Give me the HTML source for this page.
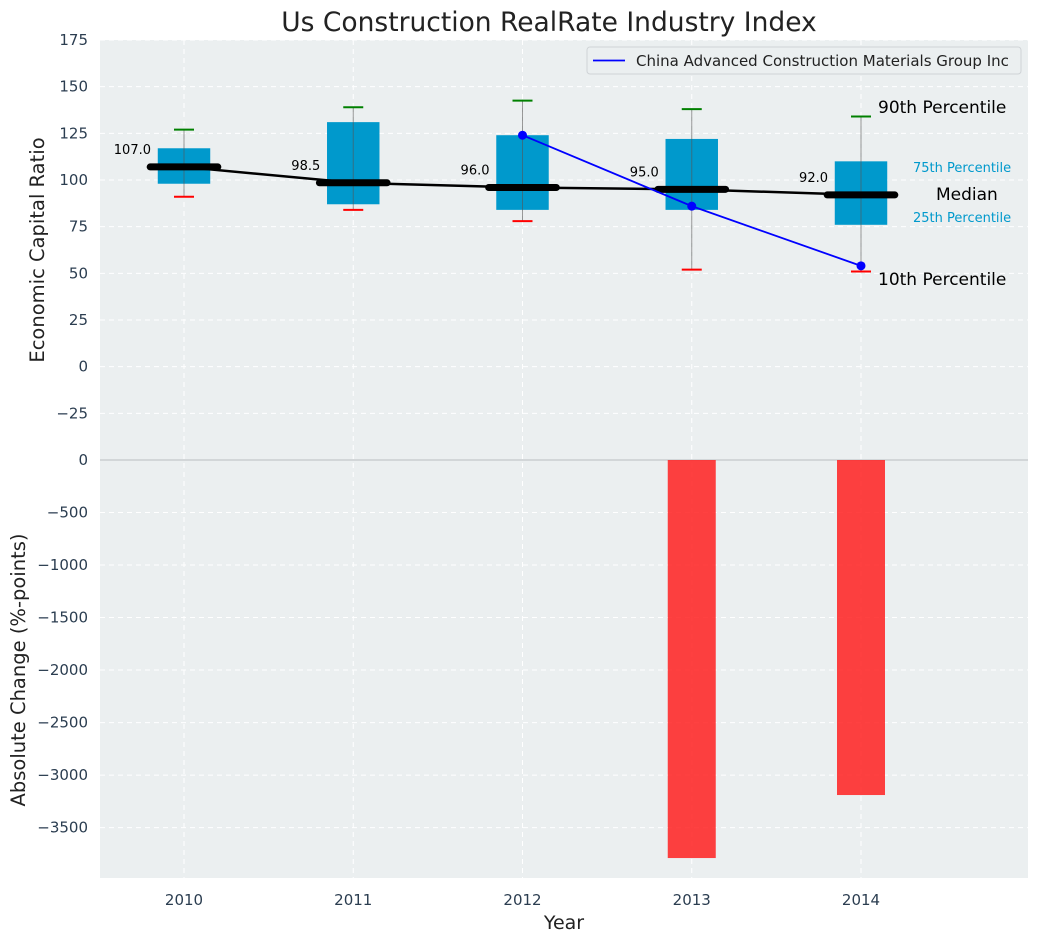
<!DOCTYPE html>
<html><head><meta charset="utf-8"><style>
body{margin:0;background:#fff;font-family:"Liberation Sans","DejaVu Sans",sans-serif}
svg text{font-family:"DejaVu Sans","Liberation Sans",sans-serif}
</style></head><body>
<svg id="c" width="1039" height="942" xmlns="http://www.w3.org/2000/svg"></svg>
<script>
const years=[2010,2011,2012,2013,2014];
const p10=[91,84,78,52,51];
const q1=[98,87,84,84,76];
const med=[107,98.5,96,95,92];
const q3=[117,131,124,122,110];
const p90=[127,139,142.5,138,134];
const companyYears=[2012,2013,2014];
const companyVals=[124,86,54];
const changeYears=[2013,2014];
const changeVals=[-3790,-3190];
const topTicks=[175,150,125,100,75,50,25,0,-25];
const botTicks=[0,-500,-1000,-1500,-2000,-2500,-3000,-3500];

const svg=document.getElementById('c');const NS='http://www.w3.org/2000/svg';
function el(t,a,txt,parent){const e=document.createElementNS(NS,t);for(const k in a)e.setAttribute(k,a[k]);if(txt!==undefined)e.textContent=txt;(parent||svg).appendChild(e);return e;}
const L=100,R=1028,T1=40,B1=460,T2=460,B2=878;
const ppy=169.25;
const x=v=>184+(v-2010)*ppy;
const y1=v=>T1+(175-v)/(175+50)*(B1-T1);
const y2=v=>T2+(0-v)/3980*(B2-T2);

let r=el('rect',{x:L,y:T1,width:R-L,height:B2-T1,fill:'#ebeff0'});

years.forEach(v=>{let g=el('line',{x1:x(v),x2:x(v),y1:T1,y2:B2,stroke:'#fff','stroke-dasharray':'5,4','stroke-width':1});});
topTicks.forEach(v=>{let g=el('line',{x1:L,x2:R,y1:y1(v),y2:y1(v),stroke:'#fff','stroke-dasharray':'5,4'});
 let t=el('text',{x:L-12,y:y1(v)+5,'text-anchor':'end','font-size':15,fill:'#2b3d50'},String(v).replace('-','\u2212'));});
botTicks.forEach(v=>{let g=el('line',{x1:L,x2:R,y1:y2(v),y2:y2(v),stroke:'#fff','stroke-dasharray':'5,4'});
 let t=el('text',{x:L-12,y:y2(v)+5,'text-anchor':'end','font-size':15,fill:'#2b3d50'},String(v).replace('-','\u2212'));});
let sep=el('line',{x1:L,x2:R,y1:B1,y2:B1,stroke:'#b8bcbf','stroke-width':1});
const bw=0.155*ppy,mw=0.2*ppy,cw=10;
years.forEach((yr,i)=>{const cx=x(yr);
 let b=el('rect',{x:cx-bw,y:y1(q3[i]),width:2*bw,height:y1(q1[i])-y1(q3[i]),fill:'#0099cc'});
 let w=el('line',{x1:cx,x2:cx,y1:y1(p90[i]),y2:y1(p10[i]),stroke:'#555','stroke-opacity':0.6,'stroke-width':1});
 let c1=el('line',{x1:cx-cw,x2:cx+cw,y1:y1(p90[i]),y2:y1(p90[i]),stroke:'green','stroke-width':2});
 let c2=el('line',{x1:cx-cw,x2:cx+cw,y1:y1(p10[i]),y2:y1(p10[i]),stroke:'red','stroke-width':2});
});
let mp=el('polyline',{points:years.map((yr,i)=>x(yr)+','+y1(med[i])).join(' '),fill:'none',stroke:'#000','stroke-width':2.5});
years.forEach((yr,i)=>{const cx=x(yr);
 let m=el('line',{x1:cx-mw,x2:cx+mw,y1:y1(med[i]),y2:y1(med[i]),stroke:'#000','stroke-width':7,'stroke-linecap':'round'});
 let t=el('text',{x:cx-33,y:y1(med[i])-13,'text-anchor':'end','font-size':13,fill:'#000'},med[i].toFixed(1));
});
let cl=el('polyline',{points:companyYears.map((yr,i)=>x(yr)+','+y1(companyVals[i])).join(' '),fill:'none',stroke:'blue','stroke-width':1.8});
companyYears.forEach((yr,i)=>{let d=el('circle',{cx:x(yr),cy:y1(companyVals[i]),r:4.5,fill:'blue'});});
const lx=x(2014);
[['90th Percentile',lx+17,113,17,'#000'],['10th Percentile',lx+17,285,17,'#000'],['75th Percentile',lx+52,172,13,'#0099cc'],['25th Percentile',lx+52,222,13,'#0099cc'],['Median',lx+75,200,17,'#000']].forEach(a=>{let t=el('text',{x:a[1],y:a[2],'font-size':a[3],fill:a[4]},a[0]);});
changeYears.forEach((yr,i)=>{let b=el('rect',{x:x(yr)-24,y:y2(0),width:48,height:y2(changeVals[i])-y2(0),fill:'#ff2020','fill-opacity':0.85});});
years.forEach(yr=>{let t=el('text',{x:x(yr),y:B2+27,'text-anchor':'middle','font-size':15,fill:'#2b3d50'},yr);});
let lg=el('rect',{x:587,y:47,width:434,height:27,rx:3,fill:'#ebeff0',stroke:'#cfd3d6'});
let ll=el('line',{x1:593,x2:625,y1:60.5,y2:60.5,stroke:'blue','stroke-width':1.8});
let lt=el('text',{x:636,y:66,'font-size':15,fill:'#222'},'China Advanced Construction Materials Group Inc');
let tt=el('text',{x:549,y:31,'text-anchor':'middle','font-size':26.5,fill:'#222'},'Us Construction RealRate Industry Index');
let xt=el('text',{x:564,y:929,'text-anchor':'middle','font-size':19,fill:'#222'},'Year');
let yt=el('text',{x:44,y:250,'text-anchor':'middle','font-size':19.5,fill:'#222',transform:'rotate(-90 44 250)'},'Economic Capital Ratio');
let yb=el('text',{x:25,y:670,'text-anchor':'middle','font-size':19.5,fill:'#222',transform:'rotate(-90 25 670)'},'Absolute Change (%-points)');
</script></body></html>
